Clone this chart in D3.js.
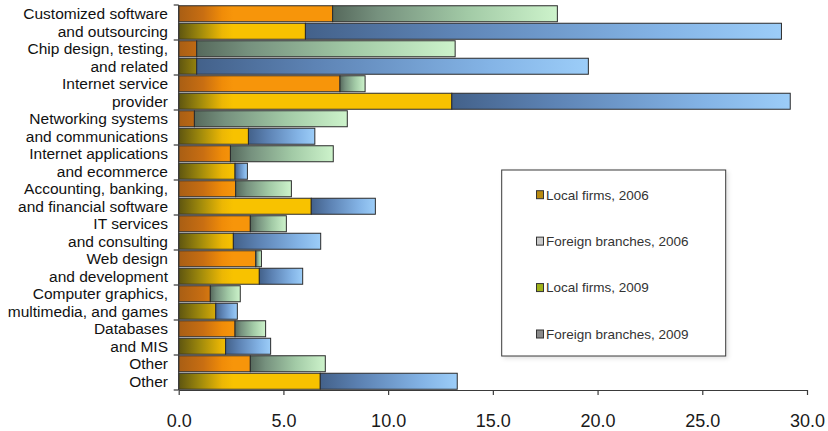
<!DOCTYPE html>
<html>
<head>
<meta charset="utf-8">
<script src="https://cdn.jsdelivr.net/npm/d3@7"></script>
<style>
  html, body { margin: 0; padding: 0; background: #ffffff; }
  svg { display: block; font-family: "Liberation Sans", Arial, sans-serif; }
</style>
</head>
<body>
<svg id="chart" width="828" height="431"></svg>
<script>
// ---------- data ----------
const categoryLine1 = ["Customized software", "Chip design, testing,", "Internet service", "Networking systems",
  "Internet applications", "Accounting, banking,", "IT services", "Web design",
  "Computer graphics,", "Databases", "Other"];
const categoryLine2 = ["and outsourcing", "and related", "provider", "and communications",
  "and ecommerce ", "and financial software", "and consulting", "and development",
  "multimedia, and games", "and MIS", "Other"];

const local2006   = [7.35, 0.86, 7.70, 0.75, 2.47, 2.72, 3.42, 3.68, 1.51, 2.69, 3.42];
const foreign2006 = [10.73, 12.34, 1.20, 7.30, 4.91, 2.66, 1.72, 0.27, 1.43, 1.46, 3.58];
const local2009   = [6.05, 0.86, 13.04, 3.33, 2.69, 6.33, 2.61, 3.85, 1.77, 2.24, 6.76];
const foreign2009 = [22.73, 18.70, 16.16, 3.17, 0.59, 3.06, 4.17, 2.07, 1.03, 2.15, 6.54];

const xTicks = [0, 5, 10, 15, 20, 25, 30];
const legendLabels = ["Local firms, 2006", "Foreign branches, 2006", "Local firms, 2009", "Foreign branches, 2009"];

// ---------- layout ----------
const svg = d3.select("#chart");
const plot = { left: 178.7, right: 807, top: 5, bottom: 390 };

const x = d3.scaleLinear().domain([0, 30]).range([plot.left, plot.right]);

// rows: two per category (2006 then 2009)
const rows = [];
categoryLine1.forEach((c, i) => {
  rows.push({ id: i + "-2006", cat: i, label: categoryLine1[i], local: local2006[i], foreign: foreign2006[i], year: 2006 });
  rows.push({ id: i + "-2009", cat: i, label: categoryLine2[i], local: local2009[i], foreign: foreign2009[i], year: 2009 });
});

const yCat = d3.scaleBand().domain(d3.range(categoryLine1.length)).range([plot.top, plot.bottom]).padding(0);
const yRow = d3.scaleBand().domain(rows.map(r => r.id)).range([plot.top, plot.bottom])
  .paddingInner(0.086).paddingOuter(0.043);

// ---------- gradients ----------
const defs = svg.append("defs");
function grad(id, stops, user) {
  const g = defs.append("linearGradient").attr("id", id);
  if (user) {
    g.attr("gradientUnits", "userSpaceOnUse").attr("x1", x(0)).attr("x2", x(2.6)).attr("y1", 0).attr("y2", 0);
  } else {
    g.attr("x1", "0%").attr("x2", "100%").attr("y1", "0%").attr("y2", "0%");
  }
  stops.forEach(s => g.append("stop").attr("offset", s[0]).attr("stop-color", s[1]));
}
grad("gLocal06", [[0, "#a85e14"], [0.45, "#c86e12"], [0.8, "#f08c08"], [1, "#f7950a"]], true);
grad("gLocal09", [[0, "#5e5510"], [0.4, "#a08a0c"], [0.8, "#ecb704"], [1, "#f8c200"]], true);
grad("gFor06", [[0, "#56695c"], [0.2, "#76917e"], [0.6, "#a2caa6"], [1, "#cdf3cb"]], false);
grad("gFor09", [[0, "#43618a"], [0.3, "#5d83b4"], [0.75, "#84b4e6"], [1, "#9ccdf8"]], false);

// legend shadow
const flt = defs.append("filter").attr("id", "shadow").attr("x", "-10%").attr("y", "-10%").attr("width", "130%").attr("height", "130%");
flt.append("feDropShadow").attr("dx", 2).attr("dy", 2).attr("stdDeviation", 2).attr("flood-color", "#000").attr("flood-opacity", 0.12);

// ---------- bars ----------
const barG = svg.append("g");
const rowG = barG.selectAll("g.row").data(rows).enter().append("g").attr("class", "row");

rowG.append("rect")
  .attr("x", x(0))
  .attr("y", d => yRow(d.id))
  .attr("height", yRow.bandwidth())
  .attr("width", d => x(d.local) - x(0))
  .attr("fill", d => d.year === 2006 ? "url(#gLocal06)" : "url(#gLocal09)")
  .attr("stroke", "#2b2b2b").attr("stroke-width", 1);

rowG.append("rect")
  .attr("x", d => x(d.local))
  .attr("y", d => yRow(d.id))
  .attr("height", yRow.bandwidth())
  .attr("width", d => x(d.local + d.foreign) - x(d.local))
  .attr("fill", d => d.year === 2006 ? "url(#gFor06)" : "url(#gFor09)")
  .attr("stroke", "#2b2b2b").attr("stroke-width", 1);

// ---------- y axis ----------
const axisColor = "#3a3a3a";
svg.append("line").attr("x1", plot.left).attr("x2", plot.left)
  .attr("y1", plot.top).attr("y2", plot.bottom).attr("stroke", axisColor).attr("stroke-width", 1.2);
const catBounds = d3.range(categoryLine1.length + 1).map(i => i < categoryLine1.length ? yCat(i) : plot.bottom);
svg.selectAll("line.ytick").data(catBounds).enter().append("line")
  .attr("x1", plot.left - 5).attr("x2", plot.left)
  .attr("y1", d => d).attr("y2", d => d)
  .attr("stroke", axisColor).attr("stroke-width", 1.2);

svg.selectAll("text.rowlab").data(rows).enter().append("text")
  .attr("x", 168)
  .attr("y", d => yRow(d.id) + yRow.bandwidth() / 2)
  .attr("dy", "0.36em")
  .attr("text-anchor", "end")
  .attr("font-size", "15.5px")
  .attr("fill", "#111")
  .text(d => d.label);

// ---------- x axis ----------
const xAxis = d3.axisBottom(x).tickValues(xTicks).tickFormat(d3.format(".1f")).tickSize(5).tickSizeOuter(0);
const xg = svg.append("g").attr("transform", `translate(0,${plot.bottom})`).call(xAxis);
xg.select(".domain").attr("stroke", axisColor).attr("stroke-width", 1.2);
xg.selectAll(".tick line").attr("stroke", axisColor).attr("stroke-width", 1.2);
xg.selectAll(".tick text").attr("font-size", "18px").attr("fill", "#1a1a1a")
  .attr("font-family", "'Liberation Sans', Arial, sans-serif").attr("y", 24);

// ---------- legend ----------
const lg = svg.append("g");
lg.append("rect").attr("x", 501.7).attr("y", 170).attr("width", 224).attr("height", 186)
  .attr("fill", "#fff").attr("stroke", "#3a3a3a").attr("stroke-width", 1).attr("filter", "url(#shadow)");
const legY = d3.scalePoint().domain(legendLabels).range([194.7, 334]);
const swatchFill = ["#b88a10", "#c9c9c9", "#9fb21a", "#8a8a8a"];
legendLabels.forEach((l, i) => {
  lg.append("rect").attr("x", 536.5).attr("y", legY(l) - 4).attr("width", 7).attr("height", 8)
    .attr("fill", swatchFill[i]).attr("stroke", "#333").attr("stroke-width", 1);
  lg.append("text").attr("x", 546).attr("y", legY(l)).attr("dy", "0.36em")
    .attr("font-size", "13.5px").attr("fill", "#333").text(l);
});
</script>
</body>
</html>
